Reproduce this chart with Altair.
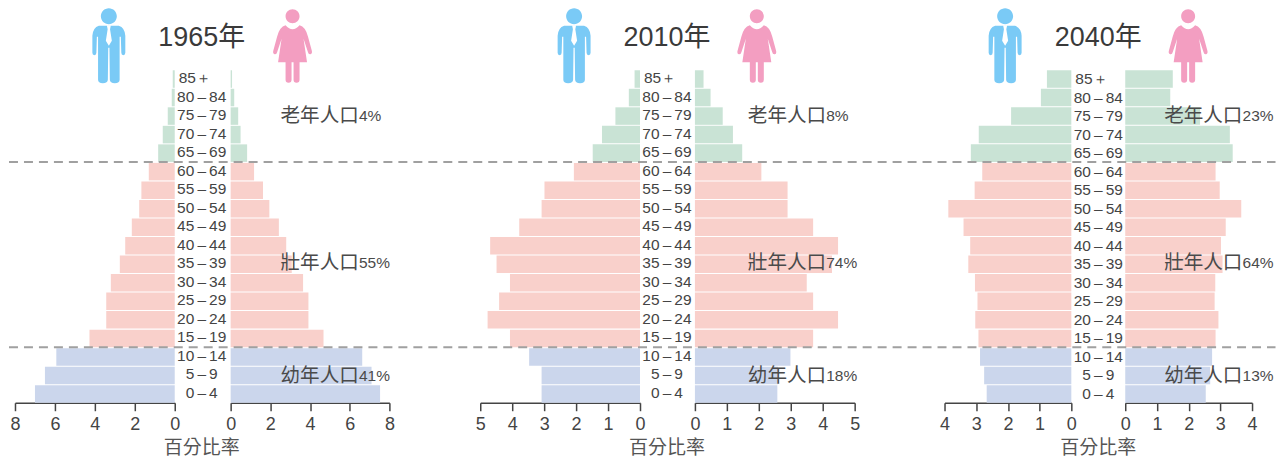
import altair as alt
import pandas as pd

ages = ["85+", "80-84", "75-79", "70-74", "65-69", "60-64", "55-59", "50-54", "45-49",
        "40-44", "35-39", "30-34", "25-29", "20-24", "15-19", "10-14", "5-9", "0-4"]
groups = ["old"] * 5 + ["adult"] * 10 + ["young"] * 3
age_text = [a.replace("-", "\u2009\u2013\u2009") if a != "85+" else "85\uff0b" for a in ages]

m1965 = [0.1, 0.15, 0.35, 0.6, 0.83, 1.3, 1.67, 1.78, 2.15, 2.48, 2.75, 3.2, 3.43, 3.43, 4.27, 5.93, 6.5, 7.0]
f1965 = [0.07, 0.18, 0.38, 0.5, 0.83, 1.18, 1.63, 1.95, 2.43, 2.8, 3.08, 3.65, 3.92, 3.92, 4.68, 6.63, 7.1, 7.53]
m2010 = [0.17, 0.35, 0.77, 1.19, 1.48, 2.07, 2.99, 3.08, 3.78, 4.69, 4.49, 4.07, 4.41, 4.77, 4.07, 3.47, 3.08, 3.08]
f2010 = [0.27, 0.49, 0.87, 1.19, 1.48, 2.08, 2.9, 2.9, 3.7, 4.48, 4.29, 3.5, 3.7, 4.48, 3.7, 2.99, 2.6, 2.58]
m2040 = [0.77, 0.96, 1.9, 2.92, 3.17, 2.81, 3.05, 3.88, 3.4, 3.19, 3.25, 3.04, 2.96, 3.03, 2.93, 2.88, 2.75, 2.67]
f2040 = [1.5, 1.42, 2.36, 3.3, 3.39, 2.85, 2.98, 3.66, 3.17, 3.02, 3.07, 2.84, 2.82, 2.94, 2.85, 2.74, 2.68, 2.54]

group_names = ["old", "adult", "young"]
group_colors = ["#c9e3d5", "#f9d0cb", "#cbd6ec"]

MAN = ("M0,-37.5 A8,8 0 1 1 0,-21.5 A8,8 0 1 1 0,-37.5 Z "
       "M-10,-20 Q-16,-18 -16.5,-10 L-16.5,7 Q-16.5,9.5 -14.5,9.5 Q-12.5,9.5 -12.5,7 L-12,-9 L-10.8,-9 "
       "L-10.8,34 Q-10.8,37.5 -6,37.5 Q-1.2,37.5 -1,34 L-0.6,2 L0.6,2 L1,34 Q1.2,37.5 6,37.5 Q10.8,37.5 10.8,34 "
       "L10.8,-9 L12,-9 L12.5,7 Q12.5,9.5 14.5,9.5 Q16.5,9.5 16.5,7 L16.5,-10 Q16,-18 10,-20 Z")
TIE = "M-2,-20.5 L2,-20.5 L1.2,-16.5 L3,-5 L0,0 L-3,-5 L-1.2,-16.5 Z"
WOMAN = ("M0,-36.5 A7,7 0 1 1 0,-22.5 A7,7 0 1 1 0,-36.5 Z "
         "M-7,-20.5 Q-13,-19 -15.5,-9 L-19.3,5 Q-20,8 -18,8.5 Q-16,9 -15.3,6 L-11,-7 L-14.5,16.5 L14.5,16.5 L11,-7 "
         "L15.3,6 Q16,9 18,8.5 Q20,8 19.3,5 L15.5,-9 Q13,-19 7,-20.5 Q0,-12.5 -7,-20.5 Z "
         "M-7,16.5 L-1,16.5 L-1,34 Q-1,37 -4,37 Q-7,37 -7,34 Z "
         "M1,16.5 L7,16.5 L7,34 Q7,37 4,37 Q1,37 1,34 Z")

CJK = "Noto Sans CJK TC"
LATIN = "Liberation Sans"
TXT = "#444444"
one = pd.DataFrame({"a": [0]})


def frame(values):
    return pd.DataFrame({"age": ages, "label": age_text, "group": groups, "value": values})


def bars(values, domain, ticks):
    return alt.Chart(frame(values)).mark_bar().encode(
        x=alt.X("value:Q", title=None,
                scale=alt.Scale(domain=domain, nice=False),
                axis=alt.Axis(values=ticks, grid=False, domainColor="#444444", domainWidth=1.5,
                              tickColor="#444444", tickWidth=1.5, tickSize=8, labelFontSize=18,
                              labelFont=LATIN, labelColor="#444444", labelPadding=5, labelFlush=False,
                              labelOverlap=False, format="d")),
        y=alt.Y("age:N", sort=ages, axis=None, title=None,
                scale=alt.Scale(paddingInner=0.055, paddingOuter=0)),
        color=alt.Color("group:N", legend=None,
                        scale=alt.Scale(domain=group_names, range=group_colors)),
    )


def text(s, x, y, size, font=CJK, color=TXT, align="center"):
    return alt.Chart(one).mark_text(text=s, fontSize=size, font=font, color=color, align=align,
                                    baseline="middle").encode(x=alt.value(x), y=alt.value(y))


def icon(path, x, color):
    return alt.Chart(one).mark_point(shape=path, size=4, filled=True, opacity=1, color=color, strokeWidth=0).encode(
        x=alt.value(x), y=alt.value(-24.5))


def left(values, domain, ticks, w, h, title, man_x, woman_x, cx, label_dy):
    lab = frame(values)
    y = alt.Y("age:N", sort=ages, axis=None, title=None)
    labels = alt.Chart(lab[lab.age != "85+"]).mark_text(fontSize=15.5, font=LATIN, color=TXT, dy=label_dy,
                                                         baseline="middle").encode(
        x=alt.value(cx), y=y, text="label:N")
    top = alt.Chart(lab[lab.age == "85+"]).mark_text(fontSize=15.5, font=LATIN, color=TXT, dy=label_dy,
                                                      baseline="middle", align="left").encode(
        x=alt.value(cx - 23), y=y, text="label:N")
    return alt.layer(
        bars(values, domain, ticks),
        labels, top,
        icon(MAN, man_x, "#7acaf6"),
        icon(TIE, man_x, "#ffffff"),
        icon(WOMAN, woman_x, "#f39ec1"),
        text(title, cx, -32, 27, font=f"{LATIN}, {CJK}", color="#3a3a3a"),
        text("百分比率", cx, 378, 19, color="#555555"),
    ).properties(width=w, height=h)


def right(values, domain, ticks, w, h, ax, notes, rule=False):
    rows = [
        ("老年人口", notes[0], 46),
        ("壯年人口", notes[1], 193),
        ("幼年人口", notes[2], 306),
    ]
    layers = [bars(values, domain, ticks)]
    for word, pct, y in rows:
        layers.append(text(word, ax, y, 19.6, align="left", color="#4a4a4a"))
        layers.append(text(pct, ax + 78.5, y, 15.5, font=LATIN, align="left", color="#4a4a4a"))
    if rule:
        for y in [92, 277.5]:
            layers.append(
                alt.Chart(one).mark_rule(color="#a0a0a0", strokeWidth=2, strokeDash=[9, 6]).encode(
                    x=alt.value(-1118), x2=alt.value(150.5), y=alt.value(y)))
    return alt.layer(*layers).properties(width=w, height=h)


def gap(w):
    return alt.Chart(one).mark_point(opacity=0).encode(x=alt.value(0), y=alt.value(0)).properties(width=w, height=333)


panels = [
    left(m1965, [8, 0], [0, 2, 4, 6, 8], 160, 333, "1965年", 94, 278, 187, -1),
    gap(56),
    right(f1965, [0, 8], [0, 2, 4, 6, 8], 159, 333, 50, ["4%", "55%", "41%"]),
    gap(91),
    left(m2010, [5, 0], [0, 1, 2, 3, 4, 5], 160, 333, "2010年", 94, 277, 187, -1),
    gap(55),
    right(f2010, [0, 5], [0, 1, 2, 3, 4, 5], 160, 333, 53, ["8%", "74%", "18%"]),
    gap(90),
    left(m2040, [4, 0], [0, 1, 2, 3, 4], 127, 333, "2040年", 60.7, 244, 154, 0),
    gap(54),
    right(f2040, [0, 4], [0, 1, 2, 3, 4], 127, 333, 39, ["23%", "64%", "13%"], rule=True),
]

chart = alt.hconcat(*panels, spacing=0, bounds="flush", padding=0).configure_view(stroke=None)
chart.save("out.html", embed_options={"renderer": "svg", "actions": False})
